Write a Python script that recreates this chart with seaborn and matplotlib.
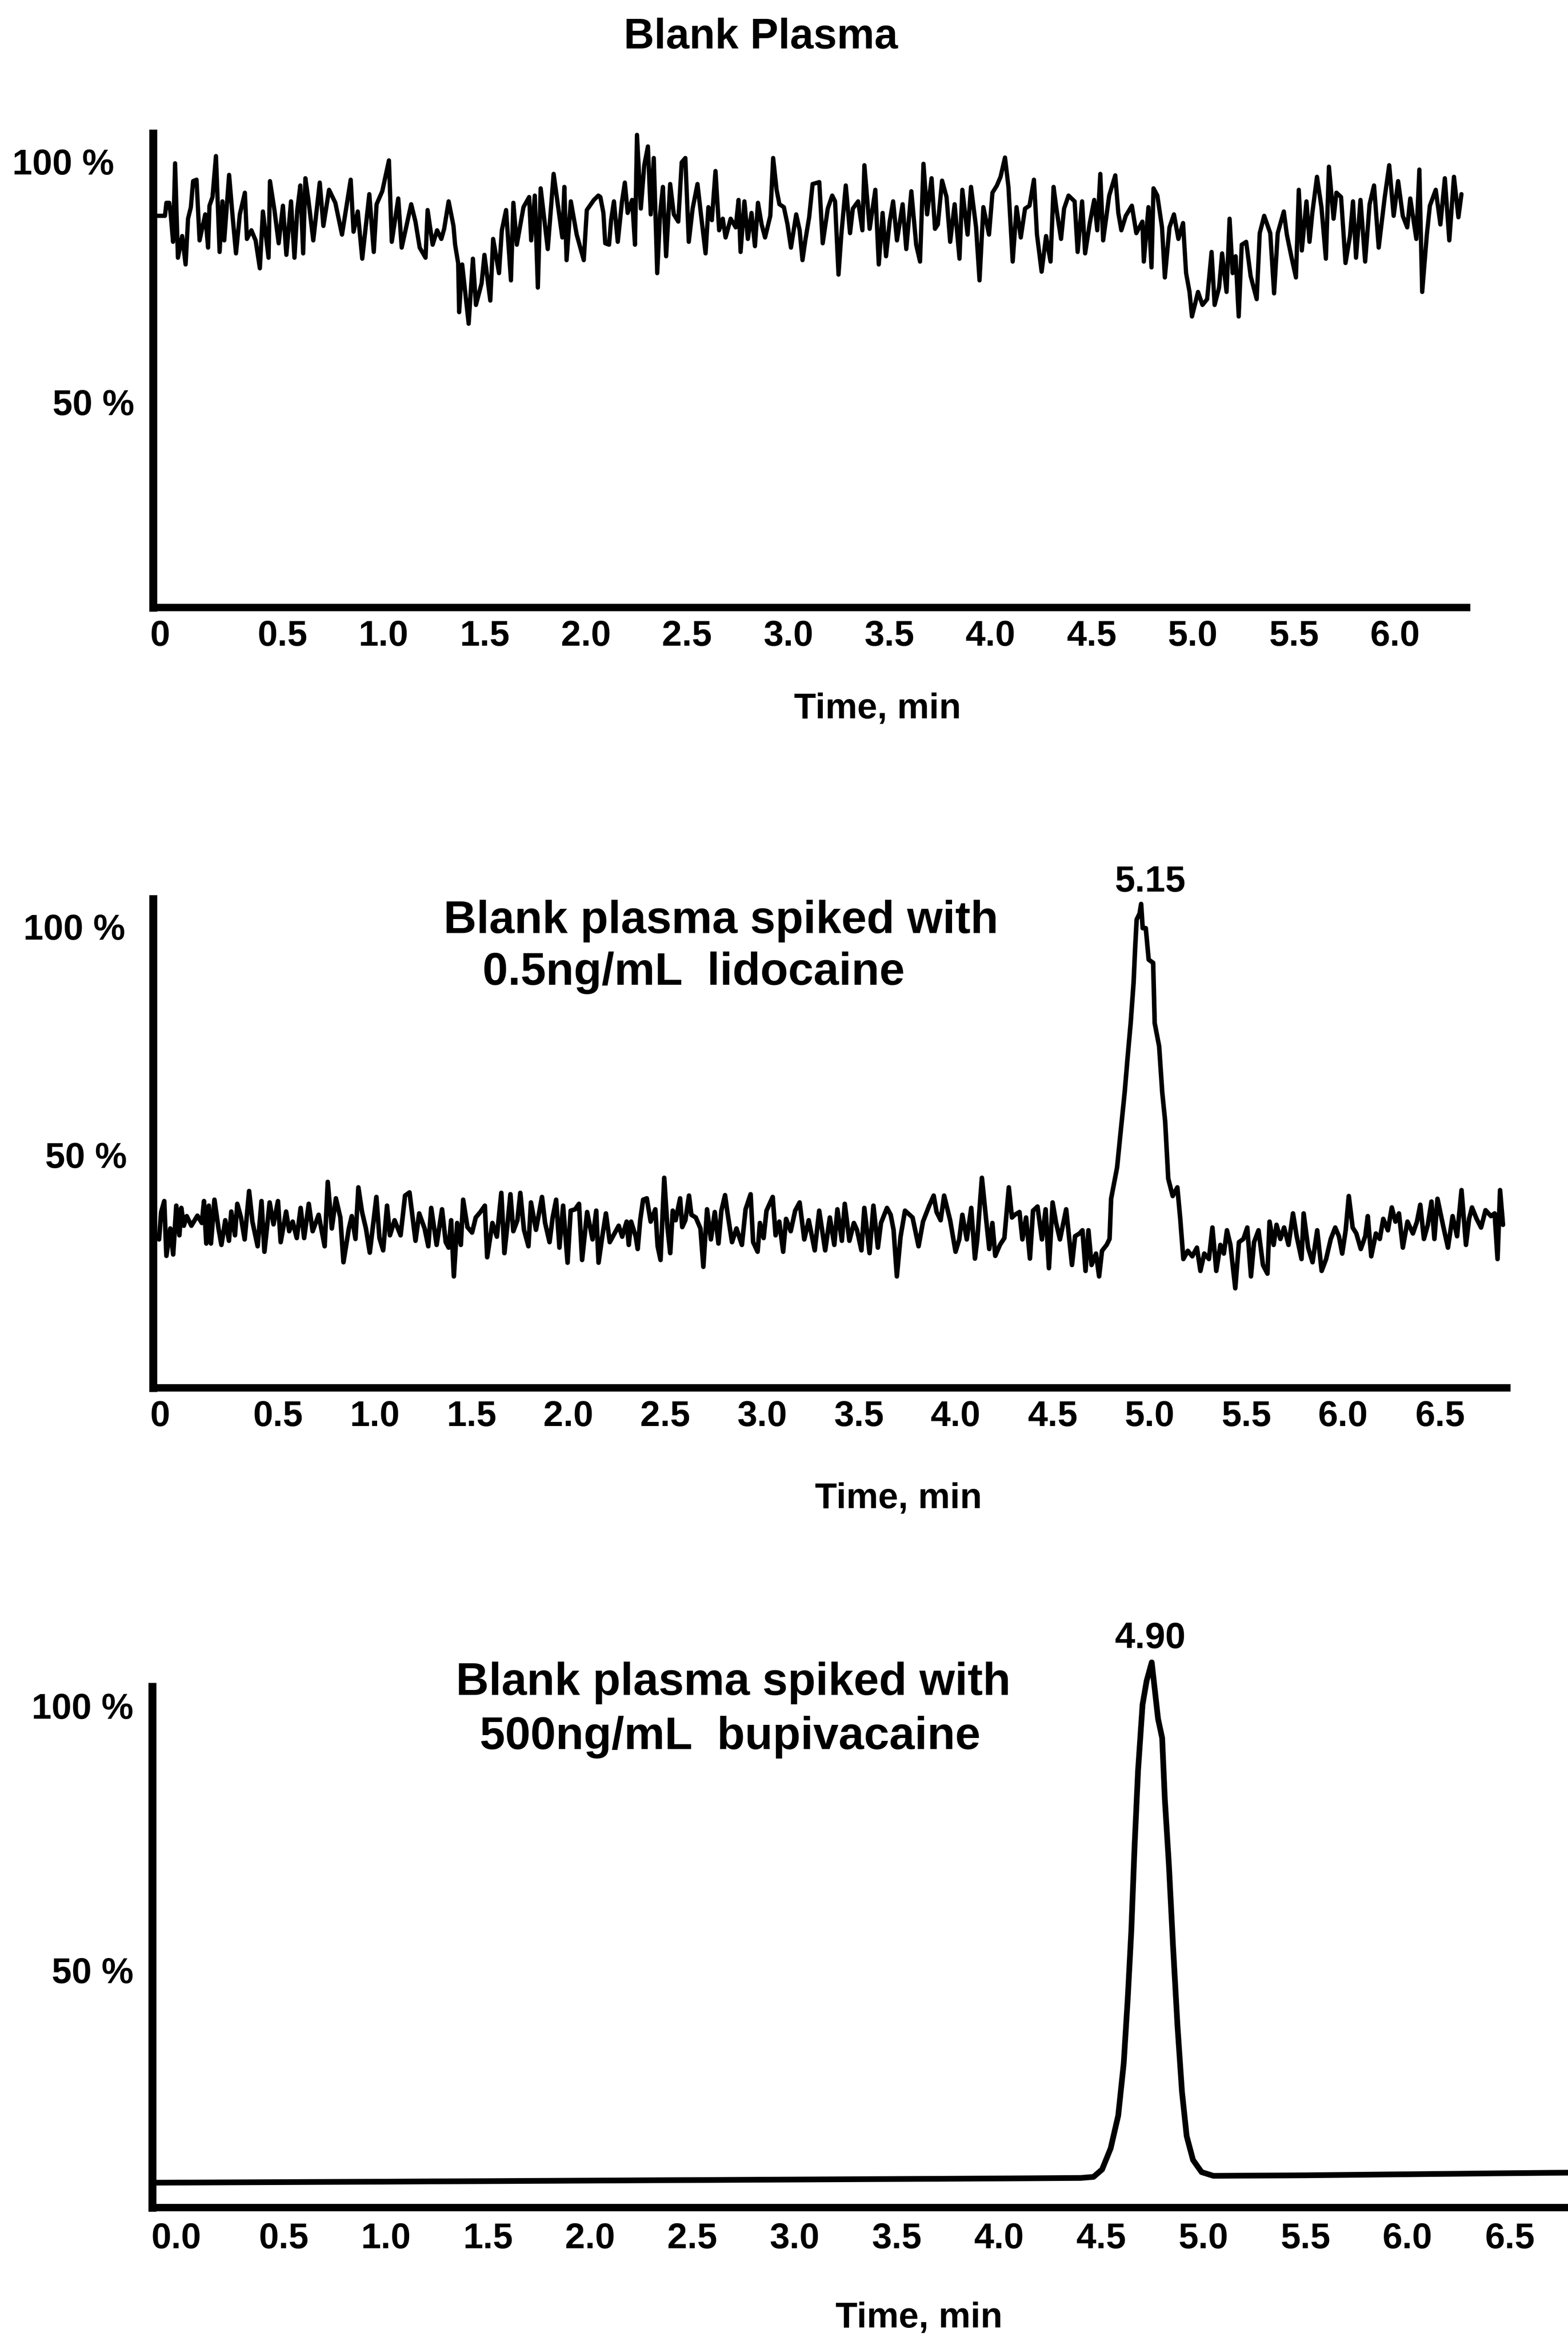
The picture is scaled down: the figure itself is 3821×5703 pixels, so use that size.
import matplotlib
matplotlib.use("Agg")
import matplotlib.pyplot as plt
import pandas as pd
import seaborn as sns

# ---------------- data ----------------
# Panel 1: Blank plasma trace (time in min, signal in %)
blank_time = [
    -0.123, -0.080, -0.073, -0.059, -0.051, -0.040, -0.030, -0.016, 0.005, 0.022,
    0.034, 0.048, 0.059, 0.076, 0.091, 0.119, 0.133, 0.140, 0.155, 0.172,
    0.190, 0.204, 0.213, 0.237, 0.254, 0.271, 0.290, 0.315, 0.325, 0.347,
    0.368, 0.389, 0.404, 0.432, 0.439, 0.461, 0.482, 0.503, 0.520, 0.543,
    0.560, 0.574, 0.589, 0.603, 0.614, 0.629, 0.653, 0.685, 0.703, 0.731,
    0.762, 0.795, 0.838, 0.852, 0.873, 0.895, 0.930, 0.952, 0.966, 0.994,
    1.027, 1.041, 1.073, 1.090, 1.137, 1.158, 1.179, 1.208, 1.218, 1.243,
    1.265, 1.286, 1.300, 1.322, 1.346, 1.354, 1.369, 1.374, 1.389, 1.421,
    1.442, 1.457, 1.485, 1.499, 1.528, 1.542, 1.571, 1.585, 1.606, 1.630,
    1.642, 1.659, 1.692, 1.720, 1.730, 1.748, 1.763, 1.777, 1.812, 1.841,
    1.884, 1.894, 1.905, 1.926, 1.955, 1.990, 2.005, 2.040, 2.062, 2.072,
    2.087, 2.096, 2.115, 2.125, 2.139, 2.158, 2.179, 2.193, 2.207, 2.229,
    2.243, 2.253, 2.272, 2.289, 2.307, 2.321, 2.336, 2.353, 2.367, 2.381,
    2.397, 2.417, 2.435, 2.457, 2.474, 2.492, 2.509, 2.528, 2.552, 2.570,
    2.592, 2.606, 2.623, 2.641, 2.659, 2.677, 2.691, 2.716, 2.741, 2.755,
    2.765, 2.784, 2.801, 2.819, 2.836, 2.851, 2.869, 2.886, 2.912, 2.926,
    2.943, 2.957, 2.979, 2.997, 3.014, 3.040, 3.057, 3.071, 3.085, 3.104,
    3.121, 3.154, 3.171, 3.196, 3.218, 3.232, 3.249, 3.263, 3.285, 3.306,
    3.320, 3.346, 3.367, 3.377, 3.403, 3.431, 3.448, 3.467, 3.484, 3.502,
    3.519, 3.538, 3.566, 3.584, 3.609, 3.633, 3.652, 3.669, 3.687, 3.709,
    3.726, 3.740, 3.761, 3.783, 3.801, 3.823, 3.847, 3.861, 3.887, 3.904,
    3.929, 3.946, 3.965, 3.993, 4.010, 4.032, 4.050, 4.072, 4.089, 4.110,
    4.129, 4.150, 4.171, 4.193, 4.215, 4.230, 4.253, 4.275, 4.297, 4.312,
    4.327, 4.349, 4.364, 4.386, 4.416, 4.431, 4.453, 4.468, 4.491, 4.513,
    4.528, 4.543, 4.557, 4.587, 4.617, 4.632, 4.647, 4.669, 4.699, 4.721,
    4.751, 4.758, 4.781, 4.796, 4.806, 4.825, 4.848, 4.862, 4.885, 4.907,
    4.929, 4.952, 4.967, 4.984, 4.996, 5.026, 5.048, 5.071, 5.093, 5.108,
    5.130, 5.145, 5.167, 5.182, 5.197, 5.212, 5.227, 5.242, 5.264, 5.286,
    5.316, 5.331, 5.353, 5.383, 5.402, 5.420, 5.450, 5.465, 5.487, 5.510,
    5.524, 5.539, 5.562, 5.577, 5.591, 5.614, 5.636, 5.658, 5.673, 5.696,
    5.710, 5.733, 5.755, 5.777, 5.792, 5.807, 5.829, 5.852, 5.874, 5.896,
    5.919, 5.948, 5.971, 5.993, 6.015, 6.038, 6.060, 6.075, 6.105, 6.120,
    6.134, 6.157, 6.172, 6.201, 6.224, 6.246, 6.268, 6.291, 6.313, 6.328,
]
blank_signal = [
    88.7, 88.7, 91.4, 91.4, 88.7, 83.3, 99.6, 80.0, 84.5, 78.6,
    88.1, 90.5, 95.9, 96.2, 83.6, 89.0, 82.1, 90.8, 92.6, 101.1,
    81.2, 91.7, 83.6, 97.2, 88.7, 80.9, 89.0, 93.5, 83.9, 85.7,
    83.6, 77.8, 89.6, 80.0, 95.9, 89.9, 83.0, 90.8, 80.6, 91.7,
    80.0, 89.9, 95.0, 80.9, 96.5, 92.0, 83.6, 95.6, 86.6, 94.1,
    91.4, 84.8, 96.2, 85.4, 89.6, 79.8, 93.2, 81.2, 91.1, 93.8,
    100.2, 83.3, 92.3, 82.1, 91.1, 87.5, 82.1, 80.0, 89.9, 82.7,
    85.7, 83.9, 86.0, 91.7, 86.6, 82.7, 78.9, 68.7, 78.6, 66.3,
    79.8, 70.2, 74.7, 80.6, 71.1, 83.9, 76.8, 85.7, 89.9, 75.3,
    91.4, 82.7, 90.5, 92.6, 83.6, 92.9, 73.8, 94.4, 81.8, 97.4,
    84.2, 94.7, 79.5, 91.7, 84.8, 79.5, 89.9, 92.0, 92.9, 92.6,
    89.3, 83.0, 82.7, 87.8, 91.7, 83.3, 91.7, 95.6, 89.3, 92.0,
    82.7, 105.5, 90.2, 99.2, 103.1, 89.0, 100.7, 76.8, 89.0, 94.7,
    80.3, 95.3, 89.0, 87.5, 99.8, 100.7, 83.3, 90.2, 95.3, 88.7,
    80.9, 90.5, 87.8, 98.0, 85.7, 88.1, 84.2, 88.1, 86.3, 92.0,
    81.2, 91.7, 83.9, 89.3, 82.4, 91.4, 86.9, 84.2, 88.7, 100.7,
    94.1, 91.1, 90.5, 86.9, 82.1, 89.0, 85.7, 79.5, 83.6, 88.4,
    95.3, 95.7, 83.0, 90.2, 92.9, 91.7, 76.5, 84.8, 95.0, 85.1,
    90.2, 91.7, 85.7, 99.2, 86.0, 94.1, 78.6, 89.3, 80.3, 87.5,
    91.7, 83.6, 91.1, 81.8, 93.8, 82.7, 79.2, 99.5, 89.0, 96.5,
    86.0, 86.9, 96.0, 92.6, 83.3, 91.1, 79.8, 94.1, 84.8, 94.7,
    86.3, 75.3, 90.5, 84.8, 93.5, 95.0, 96.8, 100.8, 94.7, 79.2,
    90.5, 84.2, 90.2, 90.8, 96.2, 84.8, 77.1, 84.5, 79.2, 94.7,
    89.9, 83.9, 90.2, 92.9, 91.7, 81.2, 91.7, 80.9, 87.2, 92.0,
    85.7, 97.4, 83.6, 92.9, 97.1, 89.3, 85.7, 88.7, 90.8, 85.1,
    87.5, 79.2, 90.5, 78.0, 94.4, 92.9, 86.3, 75.9, 86.3, 89.0,
    83.9, 87.2, 76.8, 72.9, 67.8, 72.9, 70.2, 71.4, 81.2, 70.2,
    73.8, 80.9, 72.9, 88.1, 76.8, 80.3, 67.8, 82.7, 83.3, 76.2,
    71.4, 85.1, 88.7, 85.1, 72.6, 85.1, 89.6, 84.8, 80.3, 75.9,
    94.1, 81.5, 91.7, 83.3, 89.3, 96.8, 90.5, 79.8, 98.9, 88.1,
    93.5, 92.6, 78.9, 84.5, 91.7, 80.0, 92.0, 79.2, 91.1, 95.0,
    82.1, 92.3, 99.2, 88.7, 95.9, 88.7, 86.3, 92.3, 83.9, 98.3,
    72.9, 84.8, 90.8, 94.1, 86.9, 96.5, 83.6, 96.8, 88.4, 93.2,
]

# Panel 2: blank plasma spiked with 0.5 ng/mL lidocaine
lido_time = [
    -0.113, -0.102, -0.086, -0.075, -0.055, -0.040, -0.024, -0.008, 0.002, 0.015,
    0.030, 0.054, 0.085, 0.108, 0.119, 0.131, 0.144, 0.155, 0.173, 0.194,
    0.209, 0.229, 0.248, 0.260, 0.279, 0.291, 0.310, 0.329, 0.352, 0.369,
    0.396, 0.416, 0.431, 0.458, 0.478, 0.501, 0.515, 0.543, 0.559, 0.577,
    0.598, 0.618, 0.636, 0.660, 0.680, 0.711, 0.742, 0.758, 0.779, 0.800,
    0.823, 0.839, 0.867, 0.882, 0.901, 0.916, 0.935, 0.955, 0.975, 1.009,
    1.025, 1.044, 1.064, 1.079, 1.103, 1.134, 1.157, 1.180, 1.211, 1.230,
    1.258, 1.277, 1.292, 1.320, 1.348, 1.367, 1.382, 1.395, 1.409, 1.426,
    1.445, 1.457, 1.479, 1.503, 1.522, 1.546, 1.569, 1.581, 1.608, 1.631,
    1.654, 1.670, 1.685, 1.701, 1.716, 1.737, 1.752, 1.771, 1.794, 1.807,
    1.833, 1.864, 1.880, 1.903, 1.919, 1.937, 1.954, 1.973, 1.996, 2.012,
    2.035, 2.055, 2.071, 2.097, 2.125, 2.144, 2.156, 2.175, 2.194, 2.214,
    2.237, 2.260, 2.278, 2.301, 2.312, 2.324, 2.348, 2.358, 2.371, 2.386,
    2.405, 2.425, 2.449, 2.461, 2.476, 2.495, 2.511, 2.526, 2.539, 2.554,
    2.577, 2.588, 2.604, 2.623, 2.635, 2.658, 2.682, 2.697, 2.716, 2.736,
    2.756, 2.775, 2.790, 2.809, 2.821, 2.845, 2.868, 2.896, 2.915, 2.941,
    2.954, 2.977, 2.989, 3.008, 3.023, 3.055, 3.070, 3.089, 3.109, 3.124,
    3.148, 3.171, 3.194, 3.218, 3.241, 3.272, 3.295, 3.326, 3.350, 3.373,
    3.389, 3.412, 3.427, 3.451, 3.474, 3.490, 3.513, 3.528, 3.555, 3.575,
    3.598, 3.614, 3.645, 3.664, 3.679, 3.696, 3.715, 3.738, 3.777, 3.808,
    3.831, 3.863, 3.886, 3.901, 3.922, 3.940, 3.971, 3.999, 4.018, 4.034,
    4.057, 4.080, 4.099, 4.111, 4.135, 4.158, 4.173, 4.189, 4.204, 4.228,
    4.251, 4.274, 4.290, 4.305, 4.329, 4.344, 4.363, 4.383, 4.399, 4.422,
    4.445, 4.464, 4.481, 4.500, 4.518, 4.538, 4.570, 4.600, 4.616, 4.639,
    4.654, 4.670, 4.685, 4.701, 4.724, 4.740, 4.755, 4.779, 4.794, 4.802,
    4.833, 4.848, 4.872, 4.887, 4.903, 4.918, 4.926, 4.934, 4.949, 4.957,
    4.965, 4.981, 4.996, 5.019, 5.027, 5.050, 5.066, 5.081, 5.097, 5.120,
    5.144, 5.159, 5.175, 5.198, 5.221, 5.245, 5.263, 5.283, 5.307, 5.325,
    5.345, 5.366, 5.384, 5.400, 5.418, 5.443, 5.462, 5.485, 5.505, 5.524,
    5.540, 5.563, 5.586, 5.609, 5.620, 5.641, 5.656, 5.676, 5.695, 5.718,
    5.741, 5.760, 5.785, 5.796, 5.819, 5.842, 5.866, 5.889, 5.912, 5.936,
    5.959, 5.978, 5.995, 6.013, 6.029, 6.049, 6.068, 6.091, 6.114, 6.127,
    6.145, 6.169, 6.189, 6.207, 6.231, 6.251, 6.270, 6.288, 6.308, 6.332,
    6.360, 6.381, 6.398, 6.417, 6.437, 6.456, 6.471, 6.487, 6.515, 6.541,
    6.565, 6.588, 6.611, 6.634, 6.650, 6.665, 6.689, 6.712, 6.735, 6.763,
    6.782, 6.797, 6.810, 6.825,
]
lido_signal = [
    31.5, 37.5, 39.9, 27.9, 33.9, 28.2, 38.9, 32.4, 38.4, 34.5,
    36.6, 34.5, 36.7, 35.1, 39.9, 30.6, 38.9, 30.6, 40.2, 33.9,
    30.3, 35.7, 31.2, 37.6, 32.4, 39.3, 36.3, 31.5, 42.1, 35.4,
    30.0, 39.9, 28.8, 39.6, 34.8, 39.9, 30.9, 37.6, 33.3, 35.4,
    31.8, 38.4, 31.8, 39.3, 33.3, 36.9, 30.0, 44.1, 33.9, 40.5,
    36.3, 26.5, 33.9, 36.6, 31.6, 42.9, 37.5, 33.9, 28.6, 40.8,
    31.8, 29.1, 38.9, 32.4, 35.7, 32.4, 41.1, 41.8, 31.2, 37.2,
    33.9, 30.0, 38.4, 30.3, 38.1, 30.9, 29.7, 35.7, 23.4, 35.1,
    30.3, 40.2, 34.2, 33.0, 36.3, 37.5, 38.9, 27.6, 35.1, 32.1,
    41.7, 28.5, 34.5, 41.4, 33.3, 35.7, 41.7, 33.6, 30.0, 39.6,
    33.6, 40.8, 35.1, 30.9, 36.3, 40.2, 29.7, 38.9, 26.4, 37.8,
    38.1, 39.3, 27.0, 37.5, 31.5, 37.8, 26.4, 32.1, 37.2, 30.9,
    32.7, 34.5, 32.1, 35.4, 30.3, 35.4, 32.1, 29.4, 35.7, 40.2,
    40.5, 35.4, 38.1, 30.0, 27.0, 45.0, 34.5, 28.5, 37.8, 35.7,
    40.5, 34.2, 35.7, 41.1, 36.9, 36.3, 33.9, 25.5, 38.1, 31.5,
    37.5, 30.6, 37.8, 41.2, 37.5, 30.9, 33.9, 30.3, 38.1, 41.4,
    30.9, 28.8, 35.1, 31.8, 37.8, 40.8, 32.4, 35.4, 28.8, 36.0,
    33.3, 37.8, 39.6, 31.5, 35.7, 29.1, 37.8, 29.1, 36.3, 30.3,
    38.1, 31.2, 39.3, 31.2, 35.1, 33.6, 29.1, 38.4, 28.5, 38.9,
    29.7, 35.1, 38.4, 36.9, 33.6, 23.4, 32.1, 37.8, 36.3, 30.0,
    35.4, 38.9, 41.1, 37.5, 35.7, 41.1, 35.7, 28.8, 31.5, 36.9,
    31.5, 38.4, 27.3, 31.5, 45.0, 35.4, 29.4, 35.1, 27.9, 30.3,
    31.8, 42.9, 36.3, 36.9, 37.5, 31.5, 36.3, 27.3, 37.8, 38.7,
    31.5, 38.1, 25.2, 39.6, 35.1, 31.5, 38.1, 25.9, 32.2, 32.8,
    33.5, 24.6, 33.5, 25.9, 28.4, 23.4, 29.0, 30.3, 31.6, 40.4,
    47.3, 53.7, 63.7, 71.3, 78.9, 87.7, 95.3, 101.6, 102.9, 105.0,
    99.7, 99.7, 92.8, 92.1, 78.9, 73.8, 63.7, 57.4, 44.8, 41.0,
    42.9, 36.0, 27.2, 29.0, 27.8, 29.7, 24.6, 28.4, 27.2, 34.1,
    24.6, 30.3, 28.4, 33.5, 30.3, 20.8, 30.9, 31.6, 34.1, 23.4,
    30.9, 33.5, 25.9, 24.0, 35.4, 30.3, 34.7, 31.6, 34.1, 30.3,
    37.2, 32.2, 27.2, 37.2, 29.7, 26.5, 33.5, 24.6, 27.2, 31.6,
    34.1, 32.2, 28.4, 33.5, 41.0, 34.1, 32.8, 29.4, 32.2, 36.6,
    27.8, 32.8, 31.6, 36.0, 33.5, 38.5, 35.4, 37.2, 29.7, 35.4,
    32.8, 35.4, 39.1, 31.6, 34.7, 39.8, 31.6, 40.4, 34.7, 29.7,
    36.6, 32.2, 42.3, 30.3, 36.0, 38.5, 36.0, 34.1, 37.9, 36.6,
    37.2, 27.2, 42.3, 34.7,
]

# Panel 3: blank plasma spiked with 500 ng/mL bupivacaine
bupi_time = [
    -0.140, 1.0, 2.0, 3.0, 4.0, 4.40, 4.463, 4.505, 4.547, 4.584,
    4.611, 4.631, 4.648, 4.664, 4.681, 4.703, 4.723, 4.748, 4.779, 4.799,
    4.812, 4.832, 4.852, 4.874, 4.896, 4.919, 4.950, 4.992, 5.050, 5.5,
    6.0, 6.5, 6.785,
]
bupi_signal = [
    9.8, 10.0, 10.2, 10.4, 10.6, 10.7, 10.9, 12.3, 16.3, 22.5,
    32.4, 44.9, 57.4, 73.4, 87.7, 100.2, 104.7, 108.2, 97.5, 93.9,
    82.4, 69.9, 54.7, 39.5, 27.0, 18.6, 14.1, 11.8, 11.1, 11.2,
    11.4, 11.6, 11.7,
]

# tick labels
y_ticks = [50, 100]
y_labels = ["50 %", "100 %"]
x_ticks_1 = [-0.104, 0.5, 1.0, 1.5, 2.0, 2.5, 3.0, 3.5, 4.0, 4.5, 5.0, 5.5, 6.0]
x_labels_1 = ["0", "0.5", "1.0", "1.5", "2.0", "2.5", "3.0", "3.5", "4.0", "4.5", "5.0", "5.5", "6.0"]
x_ticks_2 = [-0.108, 0.5, 1.0, 1.5, 2.0, 2.5, 3.0, 3.5, 4.0, 4.5, 5.0, 5.5, 6.0, 6.5]
x_labels_2 = ["0", "0.5", "1.0", "1.5", "2.0", "2.5", "3.0", "3.5", "4.0", "4.5", "5.0", "5.5", "6.0", "6.5"]
x_ticks_3 = [-0.026, 0.5, 1.0, 1.5, 2.0, 2.5, 3.0, 3.5, 4.0, 4.5, 5.0, 5.5, 6.0, 6.5]
x_labels_3 = ["0.0", "0.5", "1.0", "1.5", "2.0", "2.5", "3.0", "3.5", "4.0", "4.5", "5.0", "5.5", "6.0", "6.5"]

title_1 = "Blank Plasma"
title_2 = ["Blank plasma spiked with", "0.5ng/mL  lidocaine"]
title_3 = ["Blank plasma spiked with", "500ng/mL  bupivacaine"]
peak_label_2 = ("5.15", 5.004, 109.8)
peak_label_3 = ("4.90", 4.741, 112.7)
x_axis_label = "Time, min"

# ---------------- style ----------------
sns.set_theme(style="white")
plt.rcParams["font.family"] = ["Liberation Sans", "DejaVu Sans"]
plt.rcParams["font.weight"] = "bold"
plt.rcParams["axes.labelweight"] = "bold"
plt.rcParams["text.color"] = "black"
plt.rcParams["axes.labelcolor"] = "black"
plt.rcParams["xtick.color"] = "black"
plt.rcParams["ytick.color"] = "black"

fig = plt.figure(figsize=(38.21, 57.03), dpi=100)
fig.patch.set_facecolor("white")

panels = [
    dict(rect=[0.0976, 0.7405, 0.8378, 0.2025], t=blank_time, y=blank_signal, lw=7.5,
         xlim=(-0.139, 6.354), ylim=(7.4, 105.8), xt=x_ticks_1, xl=x_labels_1,
         ypads=(33, 68), xpad=22, lab=(0.5514, -0.2139)),
    dict(rect=[0.0976, 0.4072, 0.8634, 0.2088], t=lido_time, y=lido_signal, lw=8.0,
         xlim=(-0.144, 6.845), ylim=(-1.0, 106.1), xt=x_ticks_2, xl=x_labels_2,
         ypads=(46, 49), xpad=22, lab=(0.5505, -0.2267)),
    dict(rect=[0.0971, 0.0570, 0.9029, 0.2225], t=bupi_time, y=bupi_signal, lw=10.0,
         xlim=(-0.143, 6.785), ylim=(5.1, 103.6), xt=x_ticks_3, xl=x_labels_3,
         ypads=(33, 33), xpad=26, lab=(0.5417, -0.212)),
]

axes = []
for p in panels:
    ax = fig.add_axes(p["rect"])
    ax.set_facecolor("white")
    df = pd.DataFrame({"time": p["t"], "signal": p["y"]})
    sns.lineplot(data=df, x="time", y="signal", ax=ax, color="black",
                 linewidth=p["lw"], estimator=None, sort=False, legend=False,
                 clip_on=False, solid_joinstyle="round")
    ax.set_xlim(*p["xlim"])
    ax.set_ylim(*p["ylim"])
    ax.set_xticks(p["xt"], labels=p["xl"])
    ax.set_yticks(y_ticks, labels=y_labels)
    ax.tick_params(axis="both", length=0, labelsize=63, colors="black")
    ax.tick_params(axis="x", pad=p["xpad"])
    for tick, pad in zip(ax.yaxis.get_major_ticks(), p["ypads"]):
        tick.set_pad(pad)
    ax.grid(False)
    for s in ("top", "right"):
        ax.spines[s].set_visible(False)
    ax.spines["left"].set_linewidth(14)
    ax.spines["bottom"].set_linewidth(13)
    ax.spines["left"].set_color("black")
    ax.spines["bottom"].set_color("black")
    ax.set_ylabel("")
    ax.set_xlabel(x_axis_label, fontsize=63, fontweight="bold", color="black")
    ax.xaxis.set_label_coords(*p["lab"])
    ax.xaxis.label.set_va("center")
    axes.append(ax)

# titles
fig.text(0.4852, 0.9840, title_1, ha="center", va="center", fontsize=74, fontweight="bold", color="black")
fig.text(0.4598, 0.6066, title_2[0], ha="center", va="center", fontsize=80, fontweight="bold", color="black")
fig.text(0.4423, 0.5844, title_2[1], ha="center", va="center", fontsize=80, fontweight="bold", color="black")
fig.text(0.4677, 0.2811, title_3[0], ha="center", va="center", fontsize=80, fontweight="bold", color="black")
fig.text(0.4656, 0.2579, title_3[1], ha="center", va="center", fontsize=80, fontweight="bold", color="black")

# peak retention-time labels
axes[1].text(peak_label_2[1], peak_label_2[2], peak_label_2[0], ha="center", va="center",
             fontsize=64, fontweight="bold", color="black", clip_on=False)
axes[2].text(peak_label_3[1], peak_label_3[2], peak_label_3[0], ha="center", va="center",
             fontsize=64, fontweight="bold", color="black", clip_on=False)

fig.savefig("out.png", dpi=100, facecolor="white")
